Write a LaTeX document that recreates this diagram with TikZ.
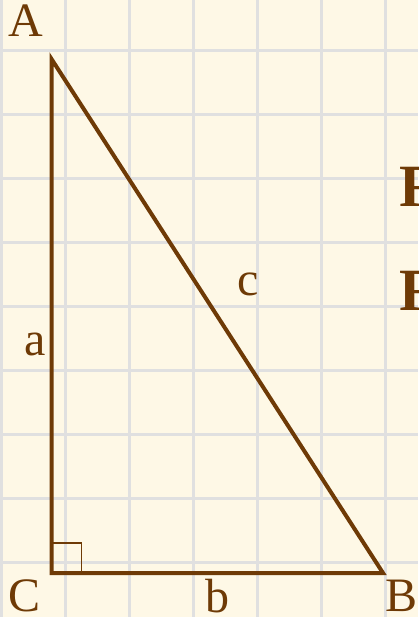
\documentclass[tikz,border=0pt]{standalone}
\usepackage{fontspec}
\setmainfont{Liberation Serif}
\definecolor{bg}{HTML}{FEF8E6}
\definecolor{gridc}{HTML}{E0E0E0}
\definecolor{ink}{HTML}{6E3A06}
\tikzset{
  gridline/.style={draw=gridc, line width=3pt},
  side/.style={draw=ink, line width=4pt, line join=miter},
  rightmark/.style={draw=ink, line width=1.6pt},
  vlabel/.style={text=ink, font=\fontsize{48}{48}\selectfont, inner sep=0pt, anchor=base},
  slabel/.style={text=ink, font=\fontsize{48}{48}\selectfont, inner sep=0pt, anchor=base},
  boldlabel/.style={text=ink, font=\fontsize{60}{60}\selectfont\bfseries, inner sep=0pt, anchor=base west}
}
\begin{document}
\begin{tikzpicture}[x=1pt,y=-1pt]
\useasboundingbox (0,0) rectangle (418,617);
\clip (0,0) rectangle (418,617);
\fill[bg] (0,0) rectangle (418,617);
\foreach \i in {0,...,6} { \draw[gridline] ({1.7+64*\i},0) -- ({1.7+64*\i},617); }
\foreach \j in {0,...,8} { \draw[gridline] (0,{50.7+64*\j}) -- (418,{50.7+64*\j}); }
% partial bold text at right edge
\node[boldlabel] (t1) at (399,207) {F};
\node[boldlabel] (t2) at (399,310) {F};
% vertices
\coordinate (A) at (51.5,59);
\coordinate (C) at (51.5,573);
\coordinate (B) at (383,573);
\draw[rightmark] ([xshift=0pt]C) ++(0,-30) coordinate (r1) -- ++(30,0) coordinate (r2) -- ++(0,30);
\draw[side] (A) -- (B) -- (C) -- cycle;
% labels
\node[vlabel] (lA) at (26,37) {A};
\node[vlabel] (lC) at (25,611) {C};
\node[vlabel] (lB) at (401,611) {B};
\node[slabel] (la) at (35,355) {a};
\node[slabel] (lb) at (217,612) {b};
\node[slabel] (lc) at (248,295) {c};
\end{tikzpicture}
\end{document}
